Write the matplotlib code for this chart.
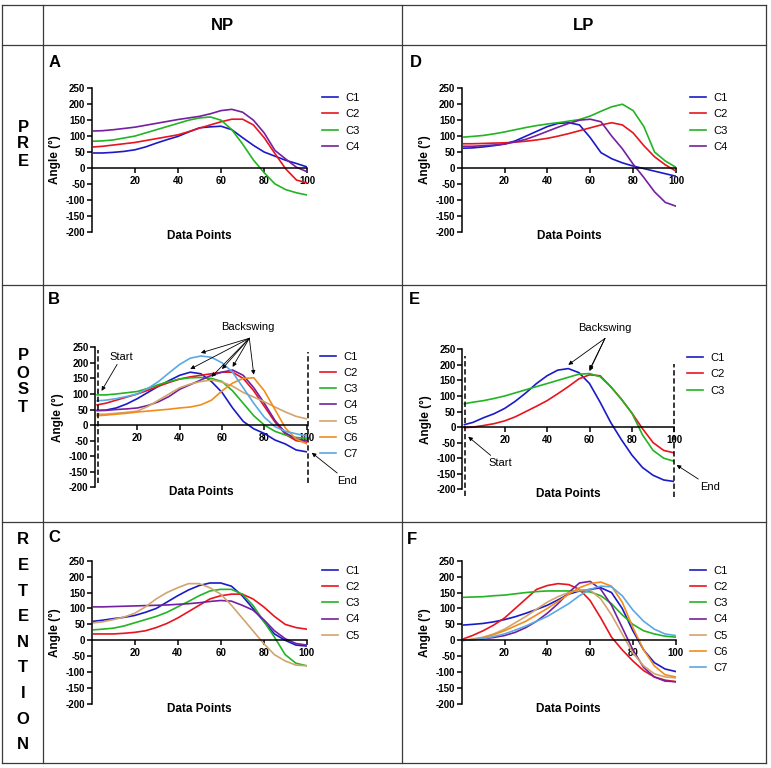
import matplotlib
matplotlib.use("Agg")
import matplotlib.pyplot as plt

plt.rcParams['font.family'] = ['Liberation Sans', 'DejaVu Sans']

W, H = 771, 768

x = [1, 5, 10, 15, 20, 25, 30, 35, 40, 45, 50, 55, 60, 65, 70, 75, 80, 85, 90, 95, 100]

# A - NP / PRE
a_c1 = [47, 47, 49, 52, 57, 66, 78, 89, 99, 113, 126, 129, 131, 120, 95, 71, 50, 37, 24, 14, 3]
a_c2 = [66, 68, 72, 76, 80, 86, 92, 98, 104, 114, 125, 135, 145, 153, 153, 135, 95, 45, -3, -38, -47]
a_c3 = [84, 85, 88, 94, 100, 110, 120, 130, 140, 150, 157, 160, 150, 120, 75, 25, -15, -50, -68, -78, -85]
a_c4 = [116, 117, 120, 124, 128, 134, 140, 146, 152, 157, 162, 170, 180, 184, 175, 150, 110, 55, 28, 2, -12]

# D - LP / PRE
d_c1 = [62, 63, 66, 70, 75, 85, 100, 115, 130, 140, 142, 135, 95, 48, 29, 16, 6, -2, -10, -18, -26]
d_c2 = [76, 76, 77, 78, 79, 81, 84, 88, 93, 100, 108, 117, 126, 135, 142, 135, 110, 70, 35, 10, -10]
d_c3 = [97, 99, 102, 107, 113, 120, 127, 133, 138, 142, 147, 152, 163, 178, 192, 200, 180, 130, 50, 22, 2]
d_c4 = [68, 68, 70, 72, 75, 82, 90, 102, 115, 128, 140, 150, 153, 145, 100, 60, 12, -30, -75, -108, -120]

# B - NP / POST
b_c1 = [47, 48, 55, 68, 85, 105, 125, 143, 160, 170, 165, 140, 105, 55, 12, -12, -27, -48, -61, -80, -86]
b_c2 = [65, 70, 80, 90, 100, 112, 125, 137, 148, 155, 160, 165, 170, 170, 150, 110, 60, 10, -30, -50, -55]
b_c3 = [97, 97, 100, 104, 108, 118, 130, 140, 148, 152, 153, 150, 140, 110, 70, 30, 0, -20, -32, -40, -42]
b_c4 = [47, 47, 50, 52, 55, 63, 75, 92, 115, 130, 145, 160, 170, 177, 160, 120, 70, 15, -25, -45, -50]
b_c5 = [35, 35, 38, 41, 45, 60, 80, 100, 120, 132, 140, 145, 138, 125, 105, 90, 75, 58, 42, 28, 20]
b_c6 = [30, 32, 35, 38, 42, 45, 48, 51, 55, 58, 65, 80, 110, 135, 150, 152, 110, 50, -10, -45, -60]
b_c7 = [78, 80, 85, 92, 100, 118, 140, 168, 195, 215, 222, 218, 200, 170, 120, 70, 25, -5, -20, -28, -35]

# E - LP / POST
e_c1 = [8, 15, 30, 43, 60, 83, 110, 140, 165, 183, 188, 175, 140, 80, 15, -40, -90, -130, -155, -170, -175]
e_c2 = [-2, 0, 5, 11, 20, 33, 50, 67, 85, 107, 130, 155, 168, 165, 130, 90, 45, -5, -50, -75, -83]
e_c3 = [75, 80, 85, 92, 100, 110, 120, 130, 140, 150, 160, 170, 172, 162, 130, 90, 45, -25, -75, -100, -110]

# C - NP / RETENTION
c_c1 = [60, 63, 68, 72, 78, 88, 100, 120, 140, 158, 172, 180, 180, 170, 140, 100, 60, 20, 0, -15, -18]
c_c2 = [20, 20, 20, 22, 25, 30, 40, 53, 70, 90, 110, 130, 140, 145, 145, 130, 105, 75, 50, 40, 35]
c_c3 = [33, 35, 38, 45, 55, 65, 75, 88, 105, 122, 140, 155, 160, 160, 145, 110, 60, 10, -45, -72, -80]
c_c4 = [105, 105, 106, 107, 108, 109, 110, 111, 113, 115, 118, 122, 125, 123, 110, 95, 65, 30, 5, -10, -15]
c_c5 = [55, 58, 65, 73, 85, 105, 130, 150, 165, 178, 178, 165, 145, 110, 70, 30, -10, -45, -65, -78, -80]

# F - LP / RETENTION
f_c1 = [48, 50, 53, 58, 65, 74, 85, 97, 110, 127, 145, 155, 160, 165, 150, 100, 30, -30, -70, -90, -98]
f_c2 = [5, 15, 30, 48, 70, 100, 130, 160, 172, 178, 175, 160, 125, 70, 10, -30, -65, -95, -115, -125, -130]
f_c3 = [135, 136, 137, 140, 142, 146, 150, 153, 155, 155, 155, 154, 152, 140, 115, 80, 50, 30, 20, 13, 10]
f_c4 = [0, 2, 5, 9, 15, 25, 40, 60, 85, 115, 150, 180, 185, 160, 110, 40, -30, -85, -115, -128, -130]
f_c5 = [0, 4, 10, 20, 35, 55, 75, 98, 120, 137, 150, 158, 158, 130, 80, 20, -40, -80, -105, -115, -118]
f_c6 = [0, 3, 8, 18, 30, 45, 60, 80, 100, 122, 145, 165, 178, 183, 170, 120, 40, -30, -80, -108, -115]
f_c7 = [0, 2, 5, 12, 20, 32, 45, 60, 75, 95, 115, 140, 160, 170, 168, 140, 95, 60, 35, 20, 15]

labels = ['C1', 'C2', 'C3', 'C4', 'C5', 'C6', 'C7']
colors = ['#1a1ac8', '#e8141e', '#22b422', '#7420a0', '#d2a46e', '#f28c1c', '#5aa8e6']
xticks = [20, 40, 60, 80, 100]
yticks = [-200, -150, -100, -50, 0, 50, 100, 150, 200, 250]

columns = ['NP', 'LP']
rows = ['PRE', 'POST', 'RETENTION']

fig = plt.figure(figsize=(W / 100, H / 100), dpi=100)
bg = fig.add_axes([0, 0, 1, 1])
bg.set_xlim(0, W)
bg.set_ylim(H, 0)
bg.axis('off')

# table frame
gc = '#3a3a3a'
for yy in [5, 45, 285, 522, 763]:
    bg.plot([2, 766], [yy, yy], color=gc, lw=0.9)
for xx in [2, 42.5, 402, 766]:
    bg.plot([xx, xx], [5, 763], color=gc, lw=0.9)

for name, cx in zip(columns, [222, 584]):
    bg.text(cx, 25, name, ha='center', va='center', fontsize=12, fontweight='bold',
            family=['Liberation Sans Narrow', 'Liberation Sans'])

row_tops = [127, 356, 540]
row_step = [17, 17, 25.6]
for name, y0, st in zip(rows, row_tops, row_step):
    for k, ch in enumerate(name):
        bg.text(23, y0 + k * st, ch, ha='center', va='center', fontsize=12, fontweight='bold')


def panel(rect, series, leg, letter, letter_xy):
    l, t, r, b = rect
    ax = fig.add_axes([l / W, 1 - b / H, (r - l) / W, (b - t) / H])
    for i, s in enumerate(series):
        ax.plot(x, s, color=colors[i], lw=1.2, label=labels[i])
    ax.set_xlim(0, 100)
    ax.set_ylim(-200, 250)
    ax.spines[['top', 'right']].set_visible(False)
    ax.spines['bottom'].set_position(('data', 0))
    for sp in ax.spines.values():
        sp.set_linewidth(1.1)
    ax.set_xticks(xticks, [str(v) for v in xticks], fontweight='bold', fontsize=7)
    ax.set_yticks(yticks, [str(v) for v in yticks], fontweight='bold', fontsize=7)
    ax.tick_params(direction='out', length=3.5, width=1.1, pad=1.2)
    ax.tick_params(axis='x', pad=2.2)
    ax.set_xlabel('Data Points', fontsize=8.5, fontweight='bold', va='center')
    ax.xaxis.set_label_coords(0.5, -4.5 / (b - t))
    ax.set_ylabel('Angle (°)', fontsize=8.5, fontweight='bold', va='center')
    ax.yaxis.set_label_coords(-36.7 / (r - l), 0.5)
    ax.legend(loc='upper left', bbox_to_anchor=(leg[0] / W, 1 - (leg[1] - 5.2) / H),
              bbox_transform=fig.transFigure, frameon=False, fontsize=8,
              handlelength=1.45, handletextpad=0.65, labelspacing=0.56,
              borderpad=0, borderaxespad=0)
    bg.text(letter_xy[0], letter_xy[1], letter, ha='center', va='center',
            fontsize=12, fontweight='bold')
    return ax


ax_a = panel((91.7, 88.3, 307.3, 231.7), [a_c1, a_c2, a_c3, a_c4], (321.7, 98.3), 'A', (55, 62.5))
ax_d = panel((461.7, 88.3, 676, 231.7), [d_c1, d_c2, d_c3, d_c4], (690, 98.3), 'D', (416, 62.5))
ax_b = panel((95, 347.3, 306.7, 487.3), [b_c1, b_c2, b_c3, b_c4, b_c5, b_c6, b_c7],
             (320, 356.7), 'B', (54, 300))
ax_e = panel((462.3, 349.3, 674.3, 489.3), [e_c1, e_c2, e_c3], (686.7, 358.3), 'E', (414, 300))
ax_c = panel((91.7, 560.7, 306.7, 704), [c_c1, c_c2, c_c3, c_c4, c_c5], (321.7, 571), 'C', (54, 537))
ax_f = panel((461.7, 560.7, 675.7, 704), [f_c1, f_c2, f_c3, f_c4, f_c5, f_c6, f_c7],
             (690, 571), 'F', (412, 539))

# POST annotations
arr = dict(arrowstyle='-|>', color='black', lw=0.6, mutation_scale=6, shrinkA=0, shrinkB=0)
dash = dict(color='black', lw=1.1, ls=(0, (3.5, 1.8)), clip_on=False)

ax_b.plot([1.3, 1.3], [-185, 240], **dash)
ax_b.plot([100.8, 100.8], [-185, 235], **dash)
ax_b.annotate('Start', xy=(3.1, 110), xytext=(12.6, 220), fontsize=8, ha='center', va='center',
              arrowprops=arr, annotation_clip=False)
ax_b.annotate('End', xy=(102.4, -89), xytext=(119, -179), fontsize=8, ha='center', va='center',
              arrowprops=arr, annotation_clip=False)
ax_b.text(72.4, 316, 'Backswing', fontsize=8, ha='center', va='center')
for s in [b_c1, b_c7, b_c5, b_c2, b_c4, b_c6]:
    i = s.index(max(s))
    ax_b.annotate('', xy=(x[i], s[i] + 10), xytext=(72.9, 279), arrowprops=arr,
                  annotation_clip=False)

ax_e.plot([1.3, 1.3], [-222, 228], **dash)
ax_e.plot([100, 100], [-224, 203], **dash)
ax_e.annotate('Start', xy=(2.8, -31), xytext=(17.8, -116), fontsize=8, ha='center', va='center',
              arrowprops=arr, annotation_clip=False)
ax_e.annotate('End', xy=(101.1, -122), xytext=(117, -192), fontsize=8, ha='center', va='center',
              arrowprops=arr, annotation_clip=False)
ax_e.text(67.3, 317, 'Backswing', fontsize=8, ha='center', va='center')
for s in [e_c1, e_c3, e_c2]:
    i = s.index(max(s))
    ax_e.annotate('', xy=(x[i], s[i] + 12), xytext=(67.3, 285), arrowprops=arr,
                  annotation_clip=False)

fig.savefig('out.png', dpi=100)
